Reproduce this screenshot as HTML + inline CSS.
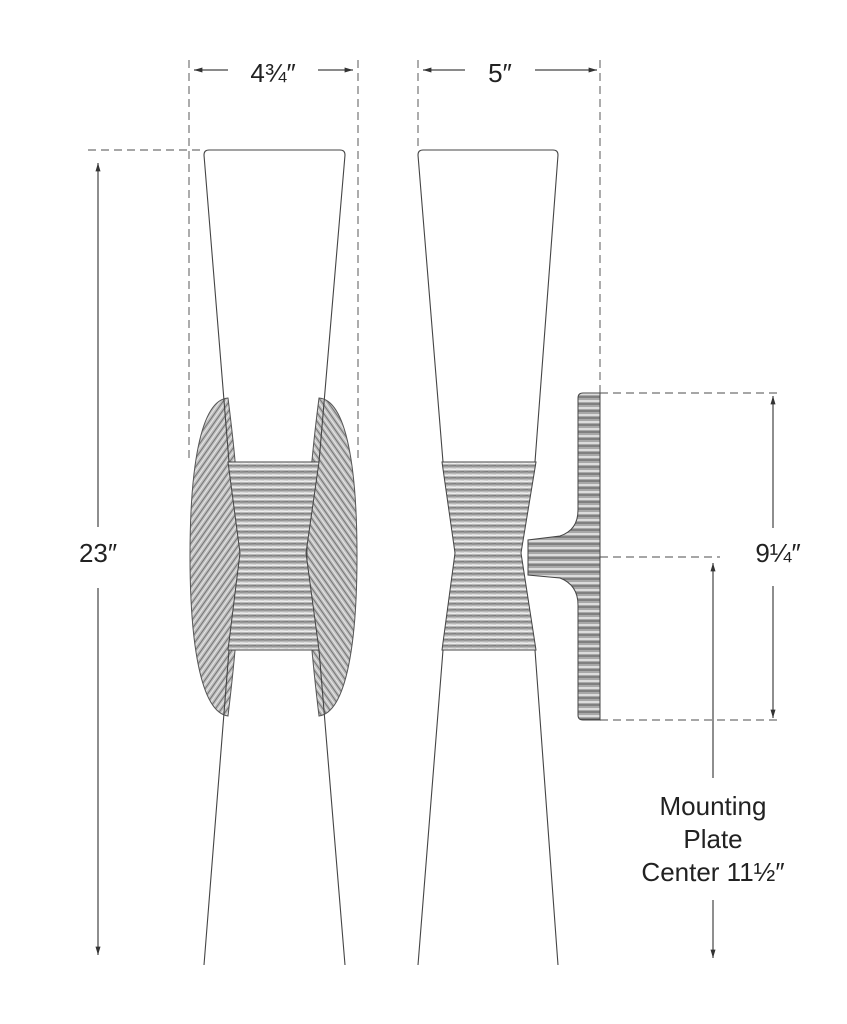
<!DOCTYPE html>
<html><head><meta charset="utf-8"><style>
html,body{margin:0;padding:0;background:#fff}
svg{display:block}
text{font-family:"Liberation Sans",sans-serif;fill:#222}
</style></head><body>
<svg width="847" height="1024" viewBox="0 0 847 1024" xmlns="http://www.w3.org/2000/svg">
<defs>
<pattern id="h" width="8" height="6" patternUnits="userSpaceOnUse">
<rect width="8" height="6" fill="#b8b8b8"/>
<line x1="0" y1="1" x2="8" y2="1.3" stroke="#f2f2f2" stroke-width="1.4"/>
<line x1="0" y1="4" x2="8" y2="3.8" stroke="#555" stroke-width="0.8"/>
</pattern>
<pattern id="r" width="5" height="5" patternUnits="userSpaceOnUse" patternTransform="rotate(35)">
<rect width="5" height="5" fill="#bdbdbd"/>
<line x1="0" y1="0" x2="0" y2="5" stroke="#f2f2f2" stroke-width="1.6"/>
<line x1="3" y1="0" x2="3" y2="5" stroke="#555" stroke-width="0.7"/>
</pattern>
<pattern id="r2" width="5" height="5" patternUnits="userSpaceOnUse" patternTransform="rotate(-35)">
<rect width="5" height="5" fill="#bdbdbd"/>
<line x1="0" y1="0" x2="0" y2="5" stroke="#f2f2f2" stroke-width="1.6"/>
<line x1="3" y1="0" x2="3" y2="5" stroke="#555" stroke-width="0.7"/>
</pattern>
<pattern id="v" width="6" height="7" patternUnits="userSpaceOnUse">
<rect width="6" height="7" fill="#a8a8a8"/>
<line x1="0" y1="2" x2="6" y2="2" stroke="#eee" stroke-width="1.5"/>
<line x1="0" y1="5" x2="6" y2="5" stroke="#444" stroke-width="0.8"/>
</pattern>
<marker id="a" viewBox="0 0 10 10" refX="10" refY="5" markerWidth="7" markerHeight="7" orient="auto-start-reverse"><path d="M0,2 L10,5 L0,8z" fill="#333"/></marker>
</defs>
<g stroke="#888" stroke-width="1.4" stroke-dasharray="8,5" fill="none">
<line x1="189" y1="60" x2="189" y2="460"/>
<line x1="358" y1="60" x2="358" y2="460"/>
<line x1="418" y1="60" x2="418" y2="150"/>
<line x1="600" y1="60" x2="600" y2="393"/>
<line x1="88" y1="150" x2="204" y2="150"/>
<line x1="600" y1="393" x2="780" y2="393"/>
<line x1="600" y1="720" x2="782" y2="720"/>
<line x1="600" y1="557" x2="720" y2="557"/>
</g>
<g stroke="#444" stroke-width="1.2" fill="none">
<line x1="194" y1="70" x2="228" y2="70" marker-start="url(#a)"/>
<line x1="318" y1="70" x2="353" y2="70" marker-end="url(#a)"/>
<line x1="423" y1="70" x2="465" y2="70" marker-start="url(#a)"/>
<line x1="535" y1="70" x2="597" y2="70" marker-end="url(#a)"/>
<line x1="98" y1="163" x2="98" y2="527" marker-start="url(#a)"/>
<line x1="98" y1="588" x2="98" y2="955" marker-end="url(#a)"/>
<line x1="773" y1="396" x2="773" y2="528" marker-start="url(#a)"/>
<line x1="773" y1="586" x2="773" y2="718" marker-end="url(#a)"/>
<line x1="713" y1="563" x2="713" y2="778" marker-start="url(#a)"/>
<line x1="713" y1="900" x2="713" y2="958" marker-end="url(#a)"/>
</g>
<text x="273" y="82" font-size="26" text-anchor="middle">4¾″</text>
<text x="500" y="82" font-size="26" text-anchor="middle">5″</text>
<text x="98" y="562" font-size="26" text-anchor="middle">23″</text>
<text x="778" y="562" font-size="26" text-anchor="middle">9¼″</text>
<text x="713" y="815" font-size="26" text-anchor="middle">Mounting</text>
<text x="713" y="848" font-size="26" text-anchor="middle">Plate</text>
<text x="713" y="881" font-size="26" text-anchor="middle">Center 11½″</text>
<!-- left fixture -->
<path d="M228,398 C200,400 190,470 190,556 C190,640 200,712 228,716 C236,650 240,600 240,556 C240,510 236,460 228,398Z" fill="url(#r)" stroke="#555" stroke-width="1"/>
<path d="M319,398 C347,400 357,470 357,556 C357,640 347,712 319,716 C311,650 307,600 307,556 C307,510 311,460 319,398Z" fill="url(#r2)" stroke="#555" stroke-width="1"/>
<path d="M228,462 L319,462 L306,553 L319,650 L228,650 L240,553Z" fill="url(#h)" stroke="#444" stroke-width="1"/>
<g stroke="#444" stroke-width="1.1" fill="none">
<path d="M229,462 L204,155 Q204,150 209,150 L340,150 Q345,150 345,155 L319,462"/>
<path d="M229,650 L204,965 M319,650 L345,965"/>
</g>
<!-- right fixture -->
<path d="M578,398 Q578,393 583,393 L600,393 L600,720 L583,720 Q578,720 578,715 L578,605 Q578,585 560,578 L528,575 L528,540 L560,536 Q578,530 578,510Z" fill="url(#v)" stroke="#444" stroke-width="1"/>
<path d="M442,462 L536,462 L521,553 L536,650 L442,650 L455,553Z" fill="url(#h)" stroke="#444" stroke-width="1"/>
<g stroke="#444" stroke-width="1.1" fill="none">
<path d="M443,462 L418,155 Q418,150 423,150 L553,150 Q558,150 558,155 L535,462"/>
<path d="M443,650 L418,965 M535,650 L558,965"/>
</g>
</svg>
</body></html>
